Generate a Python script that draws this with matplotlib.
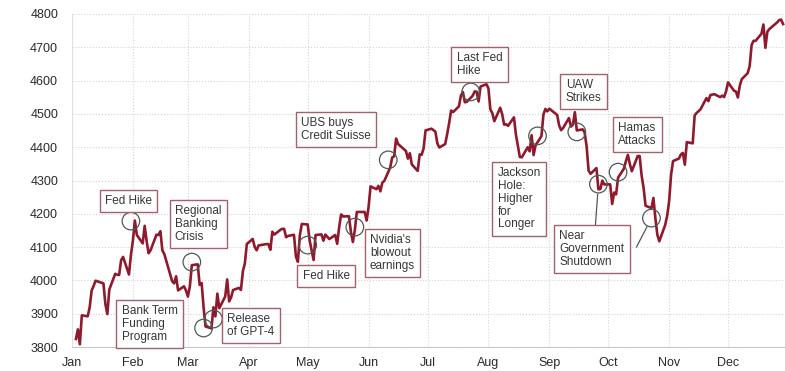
import pandas as pd
import matplotlib.pyplot as plt
import matplotlib.dates as mdates

plt.rcParams['font.family'] = ['Liberation Sans', 'DejaVu Sans']

# NYSE holidays 2023 (market closed)
holidays = ['2023-01-02', '2023-01-16', '2023-02-20', '2023-04-07', '2023-05-29',
            '2023-06-19', '2023-07-04', '2023-09-04', '2023-11-23', '2023-12-25']

# S&P 500 daily closes
closes = [
    3824.1, 3853.0, 3808.1, 3895.1, 3892.1, 3919.3, 3969.6, 3983.2, 3999.1, 3991.0,
    3928.9, 3898.9, 3972.6, 4019.8, 4017.0, 4016.2, 4060.4, 4070.6, 4017.8, 4076.6,
    4119.2, 4179.8, 4136.5, 4111.1, 4164.0, 4117.9, 4081.5, 4090.5, 4137.3, 4136.1,
    4147.6, 4090.4, 4079.1, 3997.3, 3991.1, 4012.3, 3970.0, 3982.2, 3970.2,
    3951.4, 3981.4, 4045.6, 4048.4, 3986.4, 3992.0, 3918.3, 3861.6, 3855.8, 3919.3,
    3891.9, 3960.3, 3916.6, 3951.6, 4002.9, 3937.0, 3948.7, 3971.0, 3977.5, 3971.3,
    4027.8, 4050.8, 4109.3,
    4124.5, 4100.6, 4090.4, 4105.0, 4109.1, 4108.9, 4092.0, 4146.2, 4137.6, 4151.3,
    4154.9, 4154.5, 4129.8, 4133.5, 4137.0, 4071.6, 4056.0, 4135.4, 4169.5,
    4167.9, 4119.6, 4090.8, 4061.2, 4136.3, 4138.1, 4119.2, 4137.6, 4130.6, 4124.1,
    4136.3, 4109.9, 4158.8, 4198.1, 4192.0, 4192.6, 4145.6, 4115.2, 4151.3, 4205.5,
    4205.5, 4179.8,
    4221.0, 4282.4, 4273.8, 4283.9, 4267.5, 4293.9, 4298.9, 4338.9, 4369.0, 4372.6,
    4425.8, 4409.6, 4388.7, 4365.7, 4381.9, 4348.3, 4328.8, 4378.4, 4376.9, 4396.4,
    4450.4,
    4455.6, 4446.8, 4411.6, 4399.0, 4409.5, 4439.3, 4472.2, 4510.0, 4505.4, 4522.8,
    4555.0, 4565.7, 4534.9, 4536.3, 4554.6, 4567.5, 4566.8, 4537.4, 4582.2, 4589.0,
    4576.7, 4513.4, 4501.9, 4478.0, 4518.4, 4499.4, 4467.7, 4468.8, 4464.1, 4489.7,
    4437.9, 4404.3, 4370.4, 4369.7, 4399.8, 4387.6, 4436.0, 4376.3, 4405.7, 4433.3,
    4497.6, 4514.9, 4507.7,
    4515.8, 4496.8, 4465.5, 4451.1, 4457.5, 4487.5, 4461.9, 4467.4, 4505.1, 4450.3,
    4453.5, 4444.0, 4402.2, 4330.0, 4320.1, 4337.4, 4273.5, 4274.5, 4299.7, 4288.1,
    4288.4, 4229.5, 4263.8, 4258.2, 4308.5, 4335.7, 4358.2, 4377.0, 4349.6, 4327.8,
    4373.6, 4373.2, 4314.6, 4278.0, 4224.2, 4217.0, 4247.7, 4186.8, 4137.2, 4117.4,
    4166.8, 4193.8,
    4237.9, 4317.8, 4358.3, 4366.0, 4378.4, 4382.8, 4347.4, 4415.2, 4411.6, 4495.7,
    4502.9, 4508.2, 4514.0, 4547.4, 4538.2, 4556.6, 4559.3, 4550.4, 4554.9, 4550.6,
    4567.8,
    4594.6, 4569.8, 4567.2, 4549.3, 4585.6, 4604.4, 4622.4, 4643.7, 4707.1, 4719.6,
    4719.2, 4740.6, 4768.4, 4698.4, 4746.8, 4754.6, 4774.8, 4781.6, 4783.4, 4769.8,
]

dates = pd.bdate_range('2023-01-01', '2023-12-31', freq='C', holidays=holidays)
spx = pd.Series(closes, index=dates)

# events: label, date, level circled
event_labels = ['Fed Hike', 'Regional\nBanking\nCrisis', 'Bank Term\nFunding\nProgram',
                'Release\nof GPT-4', 'Fed Hike', "Nvidia's\nblowout\nearnings",
                'UBS buys\nCredit Suisse', 'Last Fed\nHike', 'Jackson\nHole:\nHigher\nfor\nLonger',
                'UAW\nStrikes', 'Hamas\nAttacks']
event_dates = ['2023-01-31', '2023-03-03', '2023-03-09', '2023-03-14', '2023-05-01',
               '2023-05-25', '2023-06-11', '2023-07-23', '2023-08-26', '2023-09-15',
               '2023-10-06']
event_levels = [4178, 4055, 3857, 3884, 4106, 4160, 4362, 4566, 4434, 4446, 4325]
# text box offsets (pixels from the circle)
box_offsets = [(-26, 26), (-17, 57), (-82, 23), (14, 6), (-5, -25), (15, -7),
               (-87, 43), (-14, 40), (-40, -31), (-11, 53), (0, 50)]

shutdown_dates = ['2023-09-26', '2023-10-23']
shutdown_levels = [4289, 4187]

line_col = '#8e1a2d'
box_col = '#a3606d'
circ_col = '#4d5a52'
txt_col = '#363636'

fig = plt.figure(figsize=(7.85, 3.71), dpi=100)
ax = fig.add_axes([72 / 785, 24 / 371, 714 / 785, 333 / 371])

ax.plot(spx.index, spx.values, color=line_col, lw=1.9, zorder=3)

ax.set_ylim(3800, 4800)
ax.set_xlim(pd.Timestamp('2023-01-01'), pd.Timestamp('2023-12-30 12:00'))
ax.set_yticks(range(3800, 4801, 100))
ax.xaxis.set_major_locator(mdates.MonthLocator())
ax.xaxis.set_major_formatter(mdates.DateFormatter('%b'))
ax.tick_params(length=0, labelsize=9, labelcolor='#2a2a2a')
ax.tick_params(axis='y', pad=10)
ax.tick_params(axis='x', pad=7)

ax.grid(True, color='#d4d4d4', lw=0.8, ls=':')
for s in ['top', 'right']:
    ax.spines[s].set_visible(False)
ax.spines['left'].set_color('#e0e0e0')
ax.spines['bottom'].set_color('#c8c8c8')

bbox = dict(boxstyle='square,pad=0.45', fc='white', ec=box_col, lw=1.0)

for lab, d, lv, (dx, dy) in zip(event_labels, event_dates, event_levels, box_offsets):
    ax.scatter(pd.Timestamp(d), lv, s=160, facecolors='none', edgecolors=circ_col,
               lw=0.9, zorder=4)
    ax.annotate(lab, xy=(pd.Timestamp(d), lv), xytext=(dx, dy),
                textcoords='offset pixels', ha='left', va='top', fontsize=8.5,
                color=txt_col, linespacing=1.1, bbox=bbox, zorder=5)

# near government shutdown: two circles tied to one box
sd = [pd.Timestamp(d) for d in shutdown_dates]
ax.scatter(sd, shutdown_levels, s=160, facecolors='none', edgecolors=circ_col,
           lw=0.9, zorder=4)
ax.annotate('Near\nGovernment\nShutdown', xy=(sd[0], shutdown_levels[0]), xytext=(-39, -46),
            textcoords='offset pixels', ha='left', va='top', fontsize=8.5,
            color=txt_col, linespacing=1.1, bbox=bbox, zorder=5)
ax.annotate('', xy=(sd[0], shutdown_levels[0]), xytext=(-3, -41),
            textcoords='offset pixels',
            arrowprops=dict(arrowstyle='-', color='#555555', lw=0.9, shrinkA=0, shrinkB=7))
ax.annotate('', xy=(sd[1], shutdown_levels[1]), xytext=(-15, -29),
            textcoords='offset pixels',
            arrowprops=dict(arrowstyle='-', color='#555555', lw=0.9, shrinkA=0, shrinkB=7))

fig.savefig('out.png', dpi=100)
